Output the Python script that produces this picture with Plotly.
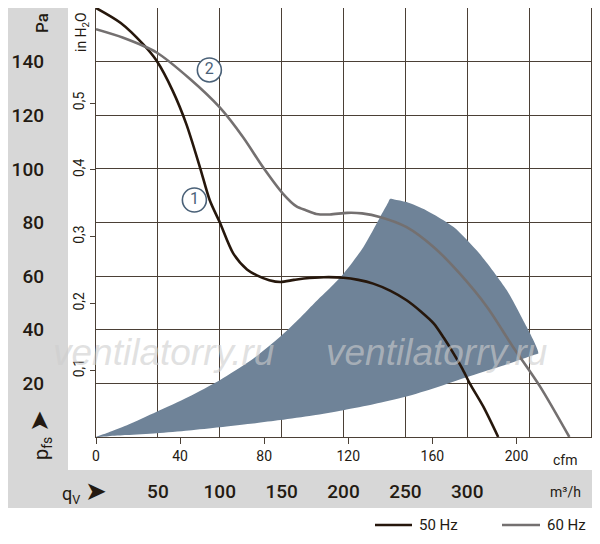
import plotly.graph_objects as go

# fan curves (m³/h, Pa)
q_50 = [0, 20, 38, 49, 62, 73, 84, 92, 100, 111, 122, 130, 140, 149, 160, 168, 184,
        200, 212, 224, 238, 251, 262, 273, 281, 289, 296, 302, 313, 325]
p_50 = [160, 154.4, 146.5, 140.3, 129.1, 116.7, 100.6, 88.2, 80.1, 68.4, 62.5, 60.3, 58.5,
        57.8, 58.6, 59.1, 59.6, 59.4, 58.6, 57.2, 54.5, 51.0, 47.0, 42.3, 37.0, 31.1,
        25.5, 20.0, 11.3, 0]

q_60 = [0, 22, 49, 76, 100, 119, 135, 151, 162, 170, 178, 189, 203, 215, 230, 251,
        273, 294, 316, 337, 359, 382.5]
p_60 = [152.1, 148.9, 143.4, 133.5, 122.9, 111.7, 100.6, 90.8, 86.0, 84.5, 83.2, 83.0,
        83.6, 83.4, 82.0, 78.3, 70.8, 60.9, 48.5, 33.6, 18.7, 0]

# operating range (shaded area): lower edge, right edge, upper edge
lower_q = [0, 10, 25, 49, 75, 100, 125, 149, 175, 200, 225, 250, 275, 300, 326, 345, 355, 357.4]
lower_p = [0, 0.3, 0.7, 1.4, 2.4, 3.6, 4.9, 6.3, 8.0, 10.0, 12.3, 15.0, 18.5, 22.4, 26.2,
           29.2, 30.8, 31.1]
right_q = [355.5, 348, 332, 310, 289, 267, 251, 241, 237.6]
right_p = [34.0, 41.1, 54.7, 68.3, 78.3, 84.5, 87.6, 88.6, 88.8]
upper_q = [236, 229.5, 216, 200, 190, 176, 165, 149, 125, 100, 75, 49, 25, 10, 0]
upper_p = [87.4, 82.0, 70.8, 60.9, 56.0, 49.7, 44.5, 37.5, 28.5, 21.2, 15.0, 9.4, 4.4,
           1.7, 0]

# curve number labels
label_q = [79.5, 91.6]
label_p = [88.4, 136.9]
label_text = ["1", "2"]

grid_m3h = [0, 50, 100, 150, 200, 250, 300, 350, 400]
m3h_ticks = [50, 100, 150, 200, 250, 300]
cfm_ticks = [0, 40, 80, 120, 160, 200]
pa_ticks = [20, 40, 60, 80, 100, 120, 140]
inh2o_ticks = [0.1, 0.2, 0.3, 0.4, 0.5]
inh2o_text = ["0,1", "0,2", "0,3", "0,4", "0,5"]

M3H_PER_CFM = 1.699
PA_PER_INH2O = 249.09

# page body keeps its 8px margin, so the figure is laid out 8px in
OFF = 8
W, H = 584, 528
FONT = "Roboto, Arial, sans-serif"
INK = "#231a12"
GRID = "#4b4036"
SHADE = "#6f8398"
C50 = "#26170c"
C60 = "#747070"
BAND = "#d7d7d7"


def fx(px):
    return (px - OFF) / W


def fy(py):
    return 1 - (py - OFF) / H


fig = go.Figure()

fig.add_trace(go.Scatter(
    x=lower_q + right_q + upper_q, y=lower_p + right_p + upper_p,
    fill="toself", fillcolor=SHADE, mode="lines", line=dict(width=0, shape="spline", smoothing=0.7),
    showlegend=False, hoverinfo="skip"))

fig.add_trace(go.Scatter(x=q_50, y=p_50, mode="lines", name="50 Hz", showlegend=False,
                         line=dict(color=C50, width=2.6, shape="spline", smoothing=0.8)))
fig.add_trace(go.Scatter(x=q_60, y=p_60, mode="lines", name="60 Hz", showlegend=False,
                         line=dict(color=C60, width=2.6, shape="spline", smoothing=0.8)))

fig.add_trace(go.Scatter(
    x=label_q, y=label_p, text=label_text, mode="markers+text", showlegend=False,
    marker=dict(symbol="circle", size=24, color="white", line=dict(color="#4a6178", width=1.6)),
    textposition="middle center", textfont=dict(family=FONT, size=16, color="#4a6178")))

# helper traces so the extra axes are drawn
fig.add_trace(go.Scatter(x=[], y=[], xaxis="x2", yaxis="y", showlegend=False))
fig.add_trace(go.Scatter(x=[], y=[], xaxis="x3", yaxis="y", showlegend=False))
fig.add_trace(go.Scatter(x=[], y=[], xaxis="x", yaxis="y2", showlegend=False))
fig.add_trace(go.Scatter(x=[], y=[], xaxis="x", yaxis="y3", showlegend=False))

xdom = [fx(96), fx(591)]
ydom = [fy(437), fy(OFF)]

fig.update_layout(
    width=W, height=H,
    margin=dict(l=0, r=0, t=0, b=0, autoexpand=False),
    paper_bgcolor="white", plot_bgcolor="white",
    font=dict(family=FONT, color=INK),
    showlegend=False,
    xaxis=dict(domain=xdom, range=[0, 400], tickvals=grid_m3h, showticklabels=False,
               ticks="", showgrid=True, gridcolor=GRID, gridwidth=1, zeroline=False,
               showline=True, mirror=True, linecolor=GRID, fixedrange=True),
    yaxis=dict(domain=ydom, range=[0, 160], dtick=20, showticklabels=False, ticks="",
               showgrid=True, gridcolor=GRID, gridwidth=1, zeroline=False,
               showline=True, mirror=True, linecolor=GRID, fixedrange=True),
    xaxis2=dict(overlaying="x", anchor="y", side="bottom", range=[0, 400 / M3H_PER_CFM],
                tickvals=cfm_ticks, ticks="outside", ticklen=6, tickcolor=GRID,
                showgrid=False, showline=False, zeroline=False,
                tickfont=dict(size=14, color=INK)),
    xaxis3=dict(overlaying="x", anchor="free", position=fy(478), range=[0, 400],
                tickvals=m3h_ticks, ticks="", showgrid=False, showline=False,
                zeroline=False, tickfont=dict(size=19, color=INK, weight=500)),
    yaxis2=dict(overlaying="y", anchor="free", position=fx(44), side="left",
                range=[0, 160], tickvals=pa_ticks, ticks="", showgrid=False,
                showline=False, zeroline=False, tickfont=dict(size=19, color=INK, weight=500)),
    yaxis3=dict(overlaying="y", anchor="x", side="left", range=[0, 160 / PA_PER_INH2O],
                tickvals=inh2o_ticks, ticktext=inh2o_text, ticks="outside", ticklen=5,
                tickcolor=GRID, tickangle=-90, showgrid=False, showline=False,
                zeroline=False, tickfont=dict(size=14, color=INK)),
    shapes=[
        dict(type="rect", xref="paper", yref="paper", x0=fx(7), x1=fx(68), y0=fy(508),
             y1=fy(7), fillcolor=BAND, line=dict(width=0), layer="below"),
        dict(type="rect", xref="paper", yref="paper", x0=fx(7), x1=fx(592), y0=fy(508),
             y1=fy(470), fillcolor=BAND, line=dict(width=0), layer="below"),
        # legend samples
        dict(type="line", xref="paper", yref="paper", x0=fx(375), x1=fx(412), y0=fy(525),
             y1=fy(525), line=dict(color=C50, width=2.6)),
        dict(type="line", xref="paper", yref="paper", x0=fx(502), x1=fx(540), y0=fy(525),
             y1=fy(525), line=dict(color=C60, width=2.6)),
    ],
)

ARROW = "<span style='font-size:26px'>➤</span>"
annots = [
    dict(text="Pa", x=fx(42), y=fy(23), textangle=-90, font=dict(size=17, weight=500)),
    dict(text="in H<sub>2</sub>O", x=fx(82), y=fy(32), textangle=-90, font=dict(size=14)),
    dict(text="p<sub>fs</sub> " + ARROW, x=fx(39), y=fy(435), textangle=-90, font=dict(size=20)),
    dict(text="q<sub>V</sub> " + ARROW, x=fx(84), y=fy(491), font=dict(size=18)),
    dict(text="cfm", x=fx(565), y=fy(460), font=dict(size=14)),
    dict(text="m³/h", x=fx(565), y=fy(492), font=dict(size=14)),
    dict(text="50 Hz", x=fx(417), y=fy(525), xanchor="left", font=dict(size=15)),
    dict(text="60 Hz", x=fx(545), y=fy(525), xanchor="left", font=dict(size=15)),
]
for wx in (163, 436):
    annots.append(dict(text="ventilatorry.ru", x=fx(wx), y=fy(352),
                       font=dict(family="Liberation Sans, Arial, sans-serif", size=37,
                                 color="rgba(205,205,205,0.6)", style="italic")))
for a in annots:
    a.setdefault("xref", "paper")
    a.setdefault("yref", "paper")
    a.setdefault("xanchor", "center")
    a.setdefault("yanchor", "middle")
    a.setdefault("showarrow", False)
    fig.add_annotation(**a)

fig.write_html("out.html")
